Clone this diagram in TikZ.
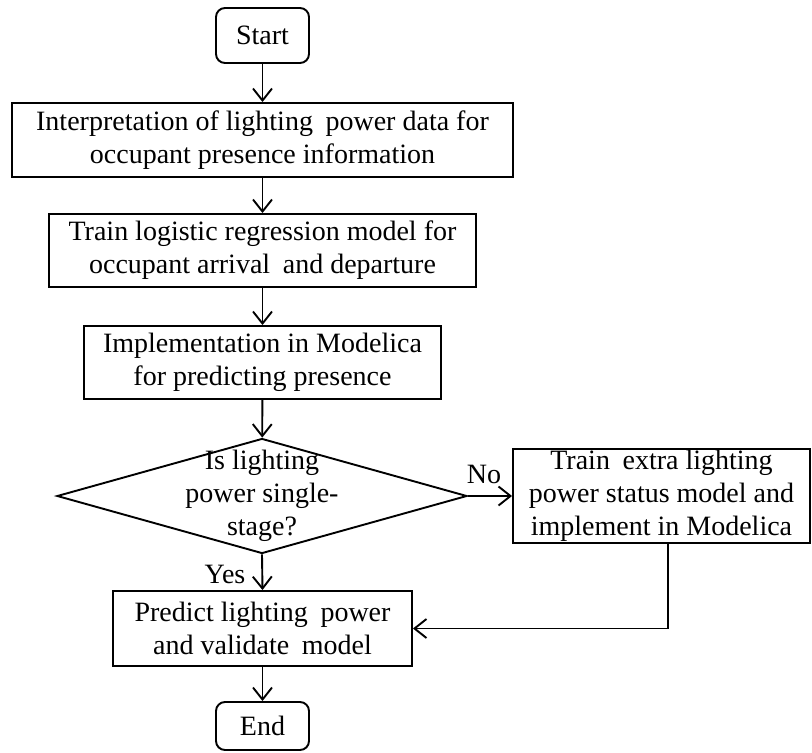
\documentclass[tikz,border=0pt]{standalone}
\usepackage{fontspec}
\setmainfont{Liberation Serif}
\usetikzlibrary{shapes.geometric,arrows.meta}
\newcommand{\wide}{\hspace{0.2em}}
\begin{document}
\begin{tikzpicture}[x=1pt,y=-1pt,
  font=\fontsize{28}{33}\selectfont,
  flow/.style={draw, line width=1.9pt, align=center, inner sep=0pt},
  process/.style={flow, rectangle},
  terminal/.style={flow, rectangle, rounded corners=9pt},
  decision/.style={draw, line width=1.9pt, diamond, inner sep=0pt},
  link/.style={line width=1.9pt, -{Straight Barb[length=12pt,width=19pt]}},
  tag/.style={inner sep=0pt}]
\useasboundingbox (0,0) rectangle (812,753);

% main column
\node[terminal, minimum width=93pt, minimum height=55pt] (start) at (262.5,35.5) {Start};
\node[process, minimum width=501pt, minimum height=74pt] (interp) at (262.5,140)
  {Interpretation of lighting\wide{} power data for\\occupant presence information};
\node[process, minimum width=427pt, minimum height=73pt] (train) at (262.5,250.5)
  {Train logistic regression model for\\occupant arrival\wide{} and departure};
\node[process, minimum width=357pt, minimum height=73pt] (impl) at (262.5,362.5)
  {Implementation in Modelica\\for predicting presence};
\node[decision, minimum width=410pt, minimum height=115pt] (dec) at (262,496) {};
\node[tag, align=center] (dectext) at (dec.center) {Is lighting\\power single-\\stage?};
\node[process, minimum width=297pt, minimum height=94pt] (extra) at (661.5,496)
  {Train\wide{} extra lighting\\power status model and\\implement in Modelica};
\node[process, minimum width=299pt, minimum height=75pt] (pred) at (262.5,628.5)
  {Predict lighting\wide{} power\\and validate\wide{} model};
\node[terminal, minimum width=93pt, minimum height=48pt] (end) at (262.5,726) {End};
\coordinate (bend) at (668,628.5);

% connectors
\draw[link] (start) -- (interp);
\draw[link] (interp) -- (train);
\draw[link] (train) -- (impl);
\draw[link] (impl) -- (dec);
\draw[link] (dec.east) -- (extra.west);
\draw[link] (dec.south) -- (pred.north);
\draw[link] (extra.south -| bend) -- (bend) -- (pred.east);
\draw[link] (pred) -- (end);

% branch labels
\node[tag] (no) at (484,474) {No};
\node[tag] (yes) at (225,574) {Yes};
\end{tikzpicture}
\end{document}
